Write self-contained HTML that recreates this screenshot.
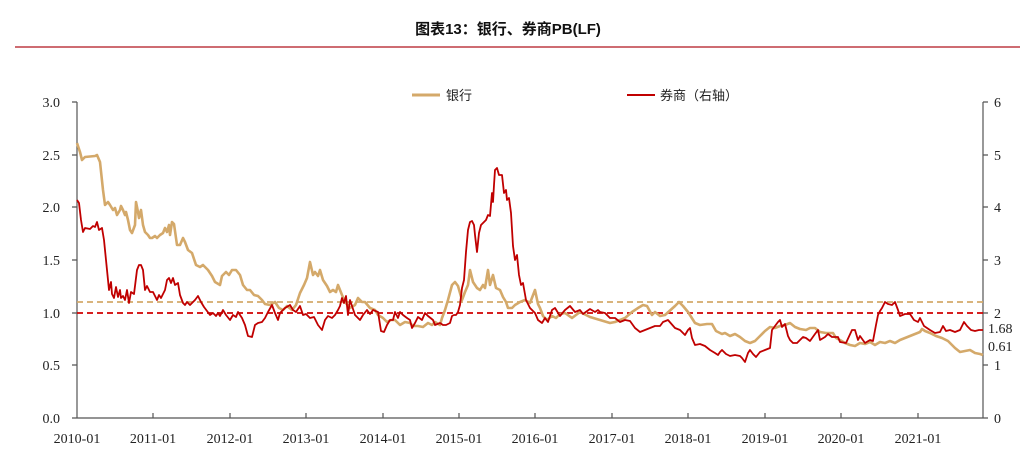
<!DOCTYPE html>
<html><head><meta charset="utf-8"><style>
body{margin:0;background:#fff;}
svg text{font-family:"Liberation Serif","Noto Serif CJK SC",serif;font-size:14px;fill:#222;}
</style></head><body>
<svg width="1034" height="461" viewBox="0 0 1034 461" xmlns="http://www.w3.org/2000/svg">
<text x="508" y="34" text-anchor="middle" style="font-family:'Liberation Sans','Noto Sans CJK SC',sans-serif;font-weight:bold;font-size:15px;fill:#111">图表13：银行、券商PB(LF)</text>
<line x1="15" y1="47" x2="1020" y2="47" stroke="#b0151f" stroke-width="1.2"/>
<!-- axes -->
<g stroke="#555" stroke-width="1.2" fill="none">
<line x1="77" y1="102" x2="77" y2="418"/>
<line x1="983" y1="102" x2="983" y2="418"/>
<line x1="77" y1="418" x2="983" y2="418"/>
<path d="M72 102H77M72 155H77M72 207H77M72 260H77M72 313H77M72 365H77M72 418H77"/>
<path d="M983 102H988M983 155H988M983 207H988M983 260H988M983 313H988M983 365H988M983 418H988"/>
<path d="M153 418V413M230 418V413M306 418V413M383 418V413M459 418V413M535 418V413M612 418V413M688 418V413M765 418V413M841 418V413M918 418V413"/>
</g>
<g text-anchor="end">
<text x="60" y="107">3.0</text><text x="60" y="160">2.5</text><text x="60" y="212">2.0</text><text x="60" y="265">1.5</text><text x="60" y="318">1.0</text><text x="60" y="370">0.5</text><text x="60" y="423">0.0</text>
</g>
<g>
<text x="994" y="107">6</text><text x="994" y="160">5</text><text x="994" y="212">4</text><text x="994" y="265">3</text><text x="994" y="318">2</text><text x="994" y="370">1</text><text x="994" y="423">0</text>
<text x="988" y="333">1.68</text><text x="988" y="351">0.61</text>
</g>
<g text-anchor="middle">
<text x="77" y="443">2010-01</text><text x="153" y="443">2011-01</text><text x="230" y="443">2012-01</text><text x="306" y="443">2013-01</text><text x="383" y="443">2014-01</text><text x="459" y="443">2015-01</text><text x="535" y="443">2016-01</text><text x="612" y="443">2017-01</text><text x="688" y="443">2018-01</text><text x="765" y="443">2019-01</text><text x="841" y="443">2020-01</text><text x="918" y="443">2021-01</text>
</g>
<!-- legend -->
<line x1="412" y1="95" x2="440" y2="95" stroke="#d4a96a" stroke-width="3"/>
<text x="446" y="100" style="font-family:'Liberation Sans','Noto Sans CJK SC',sans-serif;font-size:13px">银行</text>
<line x1="627" y1="95" x2="655" y2="95" stroke="#c00000" stroke-width="2"/>
<text x="660" y="100" style="font-family:'Liberation Sans','Noto Sans CJK SC',sans-serif;font-size:13px">券商（右轴）</text>
<!-- dashed refs -->
<line x1="77" y1="302" x2="983" y2="302" stroke="#d4a96a" stroke-width="1.8" stroke-dasharray="6,4"/>
<line x1="77" y1="313" x2="983" y2="313" stroke="#d00000" stroke-width="1.8" stroke-dasharray="6,4"/>
<polyline fill="none" stroke="#d4a96a" stroke-width="2.6" stroke-linejoin="round" points="77,143 80,152 82,160 85,157 95,156 97,155 100,162 103,190 105,205 108,202 110,205 113,210 115,208 117,215 120,210 121,206 123,210 125,215 126,212 128,220 130,230 132,233 135,225 136,202 138,212 139,218 141,210 143,225 145,232 148,235 150,238 152,238 155,236 157,238 160,235 163,233 165,228 167,232 169,225 170,235 172,222 174,224 177,245 180,245 183,238 185,242 188,250 192,253 196,265 200,267 203,265 208,270 212,276 215,282 220,285 222,276 226,272 229,275 232,270 236,270 240,275 243,285 247,290 250,290 254,295 258,296 262,300 265,304 270,305 275,302 279,308 283,310 287,306 292,310 296,305 300,293 304,285 307,278 310,262 313,275 315,272 318,276 320,270 323,280 327,286 330,292 333,290 336,292 338,285 342,295 345,302 350,308 355,305 358,298 362,302 365,302 370,308 375,310 378,315 383,318 387,322 391,320 395,320 400,325 405,322 410,323 413,326 418,326 423,327 428,323 432,325 435,322 440,325 442,318 445,310 448,300 452,285 455,282 458,286 460,293 462,300 465,292 468,285 470,270 473,282 477,288 480,290 483,285 485,288 488,270 490,285 493,275 496,288 500,290 503,297 506,302 508,308 512,308 515,305 520,302 525,300 530,303 535,290 538,304 540,308 543,316 547,320 552,316 556,318 560,314 565,313 572,318 580,312 590,317 600,320 610,323 615,322 625,318 632,312 638,308 643,305 647,306 652,315 655,312 660,316 665,315 675,306 679,302 683,306 688,312 695,323 700,325 707,324 712,324 716,331 722,334 725,333 730,336 735,334 740,337 745,341 750,343 755,341 760,336 765,331 770,327 775,328 780,326 785,325 790,323 795,327 800,329 806,330 810,328 815,328 820,332 826,333 833,333 836,338 840,340 845,343 850,345 855,346 860,343 865,344 870,342 875,345 880,342 885,343 890,341 895,343 900,340 905,338 910,336 915,334 920,332 922,329 925,331 930,333 936,336 942,338 948,341 952,345 955,348 960,352 965,351 970,350 975,353 980,354 983,355"/>
<polyline fill="none" stroke="#c00000" stroke-width="1.8" stroke-linejoin="round" points="77,200 79,203 81,220 83,232 85,228 90,229 93,226 95,227 97,222 99,230 102,228 104,240 106,260 108,280 109,290 111,282 112,294 114,298 116,287 118,297 120,290 121,298 123,296 125,300 127,290 129,303 131,292 134,294 137,270 139,265 141,265 143,270 145,290 147,286 150,292 153,292 155,296 157,300 159,295 161,298 163,294 165,290 167,280 169,278 171,283 173,278 175,285 178,283 180,295 183,303 185,305 187,302 190,305 192,303 195,300 198,296 201,302 204,307 207,311 210,315 213,313 216,316 218,313 220,316 223,310 226,315 230,320 233,315 236,317 238,312 242,318 245,325 248,336 252,337 255,325 258,323 262,322 265,318 268,312 272,305 275,313 278,320 280,313 285,308 290,305 293,310 296,312 300,306 303,315 306,314 310,318 314,317 318,325 322,330 325,320 328,316 332,318 335,315 338,310 340,306 342,298 344,303 346,296 348,315 350,300 352,306 355,315 357,317 360,320 363,315 367,310 370,314 373,310 378,312 381,331 384,332 387,325 390,320 393,320 395,312 398,318 400,312 403,315 407,318 410,320 412,328 415,323 418,317 422,320 425,313 428,316 433,320 435,325 440,323 443,325 446,325 450,323 452,316 454,315 456,315 458,312 460,305 462,288 464,280 466,252 468,230 470,222 472,221 474,225 475,235 477,252 479,233 481,225 483,223 486,220 488,215 490,216 492,193 493,202 494,185 495,170 497,168 499,175 502,175 504,193 506,190 507,200 509,198 511,213 513,246 515,260 517,255 519,275 521,285 523,283 526,300 530,308 535,313 538,320 542,323 545,318 548,322 552,310 555,308 560,316 565,310 570,306 575,312 580,310 583,314 590,309 595,312 598,310 600,312 605,313 610,318 615,318 620,322 625,320 630,321 635,328 640,332 650,328 655,326 660,326 663,322 668,320 675,328 680,330 685,335 688,330 690,328 692,338 695,345 700,344 705,346 710,350 715,353 718,355 720,352 722,350 726,354 730,356 735,355 740,356 742,358 745,362 748,353 750,350 753,354 756,357 760,352 765,350 770,348 772,330 775,326 778,322 780,320 782,327 785,324 788,336 790,340 793,343 797,343 800,340 803,337 806,338 810,341 815,334 818,330 820,340 825,337 828,334 832,337 838,337 840,342 846,343 852,330 855,330 858,340 860,336 865,343 870,340 873,341 876,325 878,315 880,311 882,308 885,302 888,304 892,305 895,302 898,310 900,316 905,314 910,314 914,320 918,322 920,318 924,326 930,330 935,333 940,332 943,326 946,331 950,330 955,332 960,330 964,322 967,326 971,330 975,331 979,330 983,330"/>
</svg>
</body></html>
